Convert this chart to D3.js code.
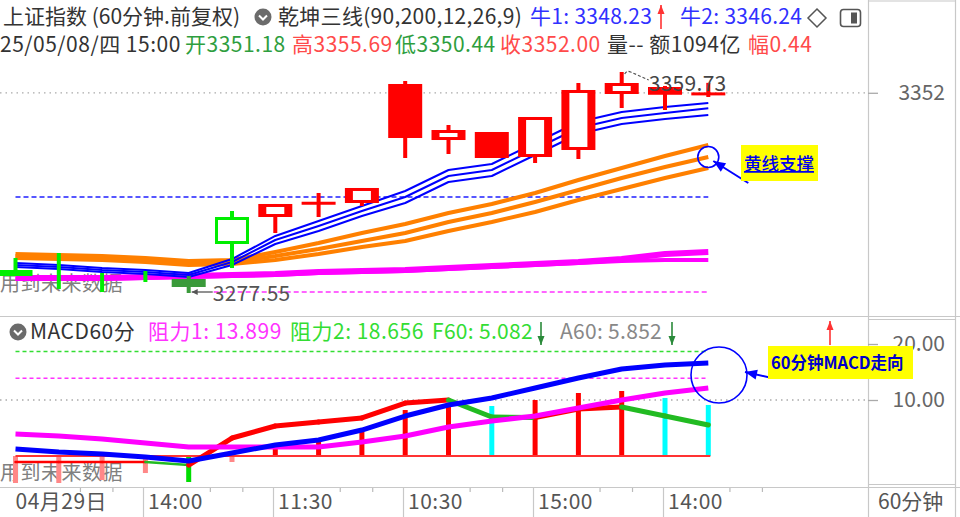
<!DOCTYPE html>
<html><head><meta charset="utf-8">
<script src="https://cdn.jsdelivr.net/npm/d3@7"></script>
<style>
body{margin:0;background:#fff;}
svg{display:block;}
text{font-family:"Noto Sans CJK SC","Microsoft YaHei",sans-serif;}
</style>
</head><body>
<svg id="c" width="960" height="517"></svg>
<script>
// ---------------- DATA ----------------
const timeLabels = ["04月29日","14:00","11:30","10:30","15:00","14:00"];
const labelIdx   = [0,3,6,9,12,15];
const candleO = [3283.87,3289.08,3284.62,3282.39,3282.76,3295.77,3305.81,3310.65,3311.02,3355.27,3334.44,3337.42,3328.12,3330.73,3351.55,3354.15,3351.18];
const candleH = [3290.57,3292.42,3284.99,3285.73,3283.87,3308.04,3310.65,3314.74,3316.60,3356.38,3340.02,3337.42,3343.00,3355.64,3359.73,3354.53,3355.69];
const candleL = [3283.87,3279.04,3277.92,3281.64,3277.55,3286.85,3299.86,3305.81,3309.90,3327.75,3329.24,3327.75,3325.89,3327.38,3346.34,3345.60,3350.44];
const candleC = [3286.10,3289.08,3284.62,3282.39,3279.78,3305.81,3310.65,3311.20,3316.60,3335.19,3338.16,3327.75,3343.00,3353.04,3355.64,3351.26,3352.00];
const bullState = [0,0,0,0,0,0,1,1,1,1,1,1,1,1,1,1,1];
// 乾坤三线 blue lines (牛1, 牛2, 牛3)
const niu1 = [3288.71,3287.96,3286.85,3286.10,3284.99,3290.19,3298.75,3304.32,3309.90,3315.48,3323.29,3325.52,3333.33,3341.14,3344.86,3346.72,3348.23];
const niu2 = [3287.96,3287.22,3286.10,3285.36,3284.24,3289.08,3297.26,3302.46,3308.04,3313.25,3321.06,3323.29,3331.10,3338.91,3342.63,3344.48,3346.24];
const niu3 = [3287.22,3286.47,3285.36,3284.62,3283.50,3287.96,3295.77,3300.61,3306.18,3311.02,3318.83,3321.06,3328.87,3336.68,3340.39,3342.25,3343.74];
// orange (yellow) support lines
const yel1 = [3292.05,3291.68,3291.31,3290.57,3289.45,3289.82,3292.80,3296.14,3299.86,3303.21,3307.30,3310.65,3314.74,3319.57,3324.03,3328.49,3332.59];
const yel2 = [3291.31,3290.94,3290.57,3289.82,3288.71,3289.08,3291.31,3293.91,3296.89,3299.86,3303.95,3307.30,3311.39,3315.85,3320.31,3324.40,3328.12];
const yel3 = [3290.57,3290.19,3289.82,3289.08,3287.96,3288.33,3289.82,3292.05,3294.66,3296.89,3300.61,3303.95,3307.67,3312.13,3316.22,3320.31,3324.03];
// magenta long lines
const pinkA = [3283.13,3283.13,3283.13,3283.50,3283.87,3284.24,3284.62,3285.36,3285.73,3286.10,3286.85,3287.59,3288.33,3289.08,3290.19,3292.05,3292.80];
const pinkB = [3282.76,3282.76,3282.76,3283.13,3283.50,3283.87,3284.24,3284.99,3285.36,3285.73,3286.47,3287.22,3287.96,3288.71,3289.45,3289.82,3289.82];
const supportLevel = 3313.25;
const bottomLevel  = 3277.92;
const priceTicks = [3352];
const qkParams = "90,200,12,26,9";
const turnover = "1094亿";
const amplitude = "0.44";
// MACD panel
const macdBar   = [-4.82,-4.82,-4.29,-3.04,-4.64,-1.07,1.61,3.21,4.29,8.21,9.11,8.93,10.00,11.25,11.61,10.36,9.11];
const macdBlue  = [1.25,0.71,0.36,-0.18,-0.89,0.54,1.96,2.86,4.64,7.14,9.11,10.36,12.14,13.93,15.54,16.25,16.61];
const macdPink  = [3.93,3.57,3.04,2.32,1.61,1.61,1.61,1.61,2.50,3.57,5.18,6.25,7.14,8.57,10.00,11.25,12.14];
const macdTrend = [-1.07,-1.07,-1.07,-1.07,-1.61,3.21,5.36,6.07,6.79,9.46,10.00,6.96,6.88,8.39,8.75,7.14,5.54];
const resist1 = 13.899, resist2 = 18.656, f60 = 5.082, a60 = 5.852;
const macdTicks = [10, 20];

// ---------------- SCALES ----------------
const svg = d3.select("#c");
const N = candleO.length;
const x = d3.scaleLinear().domain([0, N-1]).range([15.5, 708.3]);
const y = d3.scaleLinear().domain([3277.55, 3359.73]).range([293, 72]);
const ym = d3.scaleLinear().domain([0, 20]).range([456, 344]);
const AX = 868;
const FS = 21;

function arrow(g, x1, y1, x2, y2, color, w, hl, hw){
  g.append("line").attr("x1",x1).attr("y1",y1).attr("x2",x2).attr("y2",y2)
    .attr("stroke",color).attr("stroke-width",w);
  const a = Math.atan2(y2-y1, x2-x1);
  const bx = x2 - hl*Math.cos(a), by = y2 - hl*Math.sin(a);
  const px = -Math.sin(a)*hw, py = Math.cos(a)*hw;
  g.append("path").attr("d",`M${x2},${y2}L${bx+px},${by+py}L${bx-px},${by-py}Z`).attr("fill",color);
}
function chevron(cx, cy){
  svg.append("circle").attr("cx",cx).attr("cy",cy).attr("r",8.5).attr("fill","#6b6b6b");
  svg.append("polyline").attr("points",`${cx-4},${cy-1.5} ${cx},${cy+2.5} ${cx+4},${cy-1.5}`)
    .attr("fill","none").attr("stroke","#fff").attr("stroke-width",2);
}
function txt(s, xx, yy, color, size, ls, extra){
  const t = svg.append("text").attr("x",xx).attr("y",yy).attr("fill",color)
    .attr("font-size",size).attr("letter-spacing",ls||0).text(s);
  if (extra) extra(t);
  return t;
}

// ---------------- FRAME ----------------
const grid = svg.append("g").attr("stroke","#c8c8c8").attr("stroke-width",1.2);
grid.append("line").attr("x1",0).attr("x2",960).attr("y1",316.5).attr("y2",316.5);
grid.append("line").attr("x1",0).attr("x2",960).attr("y1",487.5).attr("y2",487.5);
grid.append("line").attr("x1",AX+0.5).attr("x2",AX+0.5).attr("y1",0).attr("y2",517);
grid.append("line").attr("x1",955.5).attr("x2",955.5).attr("y1",0).attr("y2",517);
grid.append("line").attr("x1",AX).attr("x2",956).attr("y1",1).attr("y2",1);
grid.append("line").attr("x1",AX).attr("x2",956).attr("y1",319.5).attr("y2",319.5);
grid.append("line").attr("x1",AX).attr("x2",956).attr("y1",484.5).attr("y2",484.5);

// ---------------- TOP PANEL ----------------
svg.append("g").selectAll("line").data(priceTicks).join("line")
  .attr("x1",0).attr("x2",AX).attr("y1",d=>y(d)).attr("y2",d=>y(d))
  .attr("stroke","#aaa").attr("stroke-width",1.3).attr("stroke-dasharray","1.5,4");
const pAxis = svg.append("g").attr("transform",`translate(${AX},0)`)
  .call(d3.axisRight(y).tickValues(priceTicks).tickSize(10).tickFormat(d3.format("d")));
pAxis.select(".domain").remove();
pAxis.selectAll(".tick line").attr("stroke","#aaa").attr("stroke-width",1.3);
pAxis.selectAll(".tick text").attr("x",77).attr("text-anchor","end").attr("fill","#666")
  .attr("font-size",FS).attr("font-family",'"Noto Sans CJK SC",sans-serif');

txt("用到未来数据", 0, 291, "#808080", 20, 0.5);

svg.append("line").attr("x1",x(0)).attr("x2",x(N-1)).attr("y1",y(supportLevel)).attr("y2",y(supportLevel))
  .attr("stroke","#1f1fff").attr("stroke-width",1.6).attr("stroke-dasharray","5,3");
svg.append("line").attr("x1",x(4)+25).attr("x2",x(N-1)).attr("y1",y(bottomLevel)).attr("y2",y(bottomLevel))
  .attr("stroke","#ff33ff").attr("stroke-width",1.6).attr("stroke-dasharray","5,3");

const lineP = d3.line().x((d,i)=>x(i)).y(d=>y(d));
function drawLine(data, color, w){
  svg.append("path").attr("d",lineP(data)).attr("fill","none").attr("stroke",color)
    .attr("stroke-width",w).attr("stroke-linejoin","round");
}
drawLine(pinkB, "#ff00ff", 4);
drawLine(pinkA, "#ff00ff", 6);
[yel3, yel2, yel1].forEach(d=>drawLine(d, "#ff8000", 4));
[niu3, niu2, niu1].forEach(d=>drawLine(d, "#0000ff", 2));

// candles
const BW = 34;
const cg = svg.append("g");
for (let i=0;i<N;i++){
  const o=candleO[i], c=candleC[i], h=candleH[i], l=candleL[i];
  const bull = bullState[i]===1;
  const down = c<o;
  const col = bull ? "#ff0000" : (down ? "#3a9a3a" : "#00ee00");
  const cx = x(i);
  cg.append("rect").attr("x",cx-2).attr("y",y(h)).attr("width",4).attr("height",Math.max(1,y(l)-y(h))).attr("fill",col);
  const top = y(Math.max(o,c)), bot = y(Math.min(o,c)), hh = bot-top;
  if (hh < 0.5) continue;
  if (down){
    cg.append("rect").attr("x",cx-BW/2).attr("y",top).attr("width",BW).attr("height",Math.max(hh,3)).attr("fill",col);
  } else if (bull){
    const H = Math.max(hh,3);
    const t0 = top - (H-hh)/2;
    cg.append("rect").attr("x",cx-BW/2).attr("y",t0).attr("width",BW).attr("height",H).attr("fill",col);
    if (H > 7) cg.append("rect").attr("x",cx-BW/2+8).attr("y",t0+3).attr("width",BW-16).attr("height",H-6).attr("fill","#fff");
  } else {
    cg.append("rect").attr("x",cx-BW/2+1.5).attr("y",top+1.5).attr("width",BW-3).attr("height",Math.max(hh-3,0.5))
      .attr("fill","#fff").attr("stroke",col).attr("stroke-width",3);
  }
}

// extremes
const iMin = d3.minIndex(candleL), iMax = d3.maxIndex(candleH);
const ann = svg.append("g");
arrow(ann, x(iMin)+24, y(candleL[iMin])-1, x(iMin)+3, y(candleL[iMin])-1, "#555", 1.3, 6, 3);
txt(d3.format(".2f")(candleL[iMin]), x(iMin)+24, y(candleL[iMin])+8, "#555", FS, 0.3);
ann.append("path").attr("d",`M${x(iMax)+3},${y(candleH[iMax])+2} q2,-4 6,-2 l18,8`)
  .attr("fill","none").attr("stroke","#555").attr("stroke-width",1.2).attr("stroke-dasharray","3,2");
txt(d3.format(".2f")(candleH[iMax]), x(iMax)+27, y(candleH[iMax])+19, "#444", FS, 0.3);

// 黄线支撑 annotation
const cy1 = y(yel2[N-1]);
svg.append("circle").attr("cx",x(N-1)).attr("cy",cy1).attr("r",10.5).attr("fill","none").attr("stroke","#0000ff").attr("stroke-width",1.6);
arrow(svg, x(N-1)+40, cy1+26, x(N-1)+5, cy1+4, "#0000ff", 2, 12, 5);
svg.append("rect").attr("x",741).attr("y",145).attr("width",77).attr("height",36).attr("fill","#ffff00");
txt("黄线支撑", 744, 170, "#0000ee", 17.5, 0, t=>t.attr("text-decoration","underline").attr("font-weight",500));

// ---------------- HEADER ----------------
const lastI = N-1, f2 = d3.format(".2f");
txt("上证指数 (60分钟.前复权)", 3, 24, "#333", FS, 0);
chevron(263, 17);
txt(`乾坤三线(${qkParams})`, 278, 24, "#333", FS, 0.3);
txt(`牛1: ${f2(niu1[lastI])}`, 530, 24, "#3030ff", FS, 0.3);
arrow(svg, 661, 29, 661, 5, "#ff3333", 1.6, 9, 3.5);
txt(`牛2: ${f2(niu2[lastI])}`, 680, 24, "#3030ff", FS, 0.3);
svg.append("path").attr("d","M817,9L826,18L817,27L808,18Z").attr("fill","none").attr("stroke","#555").attr("stroke-width",1.5);
svg.append("rect").attr("x",840.5).attr("y",9.5).attr("width",20).attr("height",17).attr("rx",3).attr("fill","none").attr("stroke","#555").attr("stroke-width",1.6);
svg.append("rect").attr("x",851).attr("y",12.5).attr("width",6).attr("height",11).attr("fill","#555");

txt("25/05/08/四 15:00", 0, 52, "#333", FS, 0.5);
txt(`开${f2(candleO[lastI])}`, 185, 52, "#2e9e3e", FS, 0.5);
txt(`高${f2(candleH[lastI])}`, 292, 52, "#ff4a4a", FS, 0.5);
txt(`低${f2(candleL[lastI])}`, 395, 52, "#2e9e3e", FS, 0.5);
txt(`收${f2(candleC[lastI])}`, 500, 52, "#ff4a4a", FS, 0.5);
txt(`量-- 额${turnover}`, 607, 52, "#333", FS, 0.5);
txt(`幅${amplitude}`, 748, 52, "#ff4a4a", FS, 0.5);

// ---------------- MACD PANEL ----------------
chevron(18, 332);
txt("MACD60分", 30, 339, "#333", FS, 0.5);
txt(`阻力1: ${d3.format(".3f")(resist1)}`, 148, 339, "#ff33ff", FS, 0.5);
txt(`阻力2: ${d3.format(".3f")(resist2)}`, 290, 339, "#33dd33", FS, 0.5);
txt(`F60: ${d3.format(".3f")(f60)}`, 432, 339, "#33dd33", FS, 0.3);
arrow(svg, 541, 322, 541, 345, "#2a8a3a", 1.6, 9, 3.5);
txt(`A60: ${d3.format(".3f")(a60)}`, 560, 339, "#888", FS, 0.3);
arrow(svg, 672, 322, 672, 345, "#2a8a3a", 1.6, 9, 3.5);
arrow(svg, 830, 345, 830, 321, "#ff3333", 1.6, 9, 3.5);

svg.append("g").selectAll("line").data([10]).join("line")
  .attr("x1",0).attr("x2",AX).attr("y1",d=>ym(d)).attr("y2",d=>ym(d))
  .attr("stroke","#aaa").attr("stroke-width",1.3).attr("stroke-dasharray","1.5,4");
const mAxis = svg.append("g").attr("transform",`translate(${AX},0)`)
  .call(d3.axisRight(ym).tickValues(macdTicks).tickSize(10).tickFormat(d3.format(".2f")));
mAxis.select(".domain").remove();
mAxis.selectAll(".tick line").attr("stroke","#aaa").attr("stroke-width",1.3);
mAxis.selectAll(".tick text").attr("x",77).attr("text-anchor","end").attr("fill","#666")
  .attr("font-size",FS).attr("font-family",'"Noto Sans CJK SC",sans-serif');

svg.append("line").attr("x1",x(0)).attr("x2",x(N-1)).attr("y1",ym(resist2)).attr("y2",ym(resist2))
  .attr("stroke","#33dd33").attr("stroke-width",1.5).attr("stroke-dasharray","4,3");
svg.append("line").attr("x1",x(0)).attr("x2",x(N-1)).attr("y1",ym(resist1)).attr("y2",ym(resist1))
  .attr("stroke","#ff33ff").attr("stroke-width",1.5).attr("stroke-dasharray","4,3");

txt("用到未来数据", 0, 480, "#808080", 20, 0.5);

// histogram
svg.append("g").selectAll("rect").data(macdBar).join("rect")
  .attr("x",(d,i)=>x(i)-2.5).attr("width",5)
  .attr("y",d=>Math.min(ym(0),ym(d))).attr("height",d=>Math.abs(ym(d)-ym(0)))
  .attr("fill",(d,i)=>{
    const prev = i>0 ? macdBar[i-1] : d;
    if (d>=0) return d>=prev ? "#ff0000" : "#00ffff";
    return d<prev ? "#00dd00" : "#ff8888";
  });
svg.append("line").attr("x1",x(0)).attr("x2",x(N-1)+2).attr("y1",ym(0)).attr("y2",ym(0))
  .attr("stroke","#ff3333").attr("stroke-width",2);

// trend line, red when rising, green when falling
const tg = svg.append("g").attr("stroke-linecap","round");
for (let i=1;i<N;i++){
  const neg = macdTrend[i] < 0 && macdTrend[i-1] < 0;
  tg.append("line").attr("x1",x(i-1)).attr("y1",ym(macdTrend[i-1])).attr("x2",x(i)).attr("y2",ym(macdTrend[i]))
    .attr("stroke-width", neg ? 2.5 : 5)
    .attr("stroke", macdTrend[i]>=macdTrend[i-1] ? "#ff0000" : "#22bb22");
}
const lineM = d3.line().x((d,i)=>x(i)).y(d=>ym(d));
svg.append("path").attr("d",lineM(macdPink)).attr("fill","none").attr("stroke","#ff00ff").attr("stroke-width",5).attr("stroke-linejoin","round");
svg.append("path").attr("d",lineM(macdBlue)).attr("fill","none").attr("stroke","#0000ff").attr("stroke-width",5).attr("stroke-linejoin","round");

// MACD annotation
svg.append("circle").attr("cx",719).attr("cy",375).attr("r",28).attr("fill","none").attr("stroke","#0000ff").attr("stroke-width",1.6);
arrow(svg, 772, 378, 745, 372, "#0000ff", 2, 12, 5);
svg.append("rect").attr("x",768).attr("y",346).attr("width",145).attr("height",33).attr("fill","#ffff00");
txt("60分钟MACD走向", 771, 369, "#0000cc", 16.5, 0, t=>t.attr("font-weight","bold"));

// ---------------- X AXIS ----------------
const xg = svg.append("g");
xg.selectAll("line.sep").data(labelIdx.slice(1)).join("line").attr("class","sep")
  .attr("x1",d=>Math.round(x(d))-1.5).attr("x2",d=>Math.round(x(d))-1.5).attr("y1",488).attr("y2",517)
  .attr("stroke","#c8c8c8").attr("stroke-width",1.2);
const minor = [];
labelIdx.forEach(d=>{ minor.push(d+1.5, d+2.25); });
xg.selectAll("line.minor").data(minor.filter(d=>x(d)<AX-5)).join("line").attr("class","minor")
  .attr("x1",d=>x(d)).attr("x2",d=>x(d)).attr("y1",488).attr("y2",492)
  .attr("stroke","#bbb").attr("stroke-width",1.2);
xg.selectAll("text").data(labelIdx).join("text")
  .attr("x",(d,i)=> i===0 ? x(d) : Math.round(x(d))+3).attr("y",509)
  .attr("fill","#555").attr("font-size",FS).attr("letter-spacing",0.5).text((d,i)=>timeLabels[i]);
txt("60分钟", 878, 509, "#555", FS, 0);
</script>
</body></html>
